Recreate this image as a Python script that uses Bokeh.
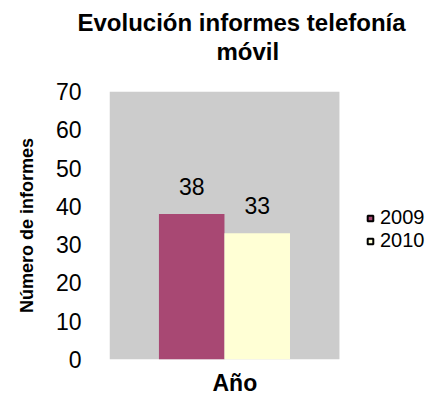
from bokeh.plotting import figure
from bokeh.models import (ColumnDataSource, Range1d, FixedTicker, Title,
                          LabelSet, Legend, LegendItem)
from bokeh.core.properties import value
from bokeh.transform import dodge
from bokeh.embed import file_html
from bokeh.resources import INLINE

title_lines = ["Evolución informes telefonía", "móvil"]
category = ["Año"]
series = ["2009", "2010"]
values_2009 = [38]
values_2010 = [33]
colors = ["#a84873", "#ffffd5"]
y_ticks = [0, 10, 20, 30, 40, 50, 60, 70]

FONT = "Liberation Sans"
NAN = float("nan")

pos = [i + 0.5 for i in range(len(category))]

p = figure(width=430, height=403, x_range=Range1d(0, 1.396), y_range=Range1d(y_ticks[0], y_ticks[-1]),
           output_backend="svg", toolbar_location=None, title=None,
           min_border_left=109, min_border_right=0, min_border_top=91, min_border_bottom=44)
p.background_fill_color = "white"
p.border_fill_color = "white"
p.outline_line_color = None
p.xgrid.visible = False
p.ygrid.visible = False
p.xaxis.visible = False

# plot area (gray)
p.quad(left=[0], right=[len(category)], bottom=[y_ticks[0]], top=[y_ticks[-1]],
       fill_color="#cccccc", line_color=None)

src1 = ColumnDataSource(dict(x=pos, y=values_2009, t=[str(v) for v in values_2009]))
src2 = ColumnDataSource(dict(x=pos, y=values_2010, t=[str(v) for v in values_2010]))

r1 = p.vbar(x=dodge("x", -0.1425), top="y", width=0.285, source=src1,
            fill_color=colors[0], line_color=None)
r2 = p.vbar(x=dodge("x", 0.1425), top="y", width=0.285, source=src2,
            fill_color=colors[1], line_color=None)

for src, off in ((src1, -0.1425), (src2, 0.1425)):
    p.add_layout(LabelSet(x=dodge("x", off), y="y", text="t", source=src,
                          y_offset=19, text_align="center", text_baseline="alphabetic",
                          text_font=value(FONT), text_font_size="23px", text_color="black"))

# legend key renderers (not drawn in the plot area)
k1 = p.scatter(x=[NAN], y=[NAN], marker="square", size=8, fill_color=colors[0],
               line_color="black", line_width=2)
k2 = p.scatter(x=[NAN], y=[NAN], marker="square", size=8, fill_color=colors[1],
               line_color="black", line_width=2)
leg = Legend(items=[LegendItem(label=series[0], renderers=[k1]),
                    LegendItem(label=series[1], renderers=[k2])],
             location=(254, 107), orientation="vertical")
leg.background_fill_alpha = 0
leg.border_line_color = None
leg.label_text_font = FONT
leg.label_text_font_size = "20px"
leg.label_text_color = "black"
leg.label_height = 19
leg.glyph_height = 14
leg.glyph_width = 14
leg.spacing = 0
leg.padding = 0
leg.margin = 0
leg.label_standoff = 3
p.add_layout(leg, "center")

# y axis
ya = p.yaxis[0]
ya.ticker = FixedTicker(ticks=y_ticks)
ya.axis_line_color = None
ya.major_tick_line_color = None
ya.minor_tick_line_color = None
ya.major_label_text_font = FONT
ya.major_label_text_font_size = "23px"
ya.major_label_text_color = "black"
ya.major_label_standoff = 22
ya.axis_label = "Número de informes"
ya.axis_label_text_font = FONT
ya.axis_label_text_font_size = "18px"
ya.axis_label_text_font_style = "bold"
ya.axis_label_text_color = "black"
ya.axis_label_standoff = 16

# x axis title (below)
p.add_layout(Title(text=category[0], align="left", offset=103, standoff=16,
                   text_font=FONT, text_font_size="23px", text_font_style="bold",
                   text_color="black"), "below")

# two-line title (first added is nearest the plot); a thin spacer keeps it in place
p.add_layout(Title(text=" ", align="left", standoff=24, text_font_size="1px"), "above")
p.add_layout(Title(text=title_lines[1], align="left", offset=107, standoff=0,
                   text_font=FONT, text_font_size="24px", text_font_style="bold",
                   text_color="black"), "above")
p.add_layout(Title(text=title_lines[0], align="left", offset=-32, standoff=0,
                   text_font=FONT, text_font_size="24px", text_font_style="bold",
                   text_color="black"), "above")

open("out.html", "w").write(file_html(p, INLINE))
